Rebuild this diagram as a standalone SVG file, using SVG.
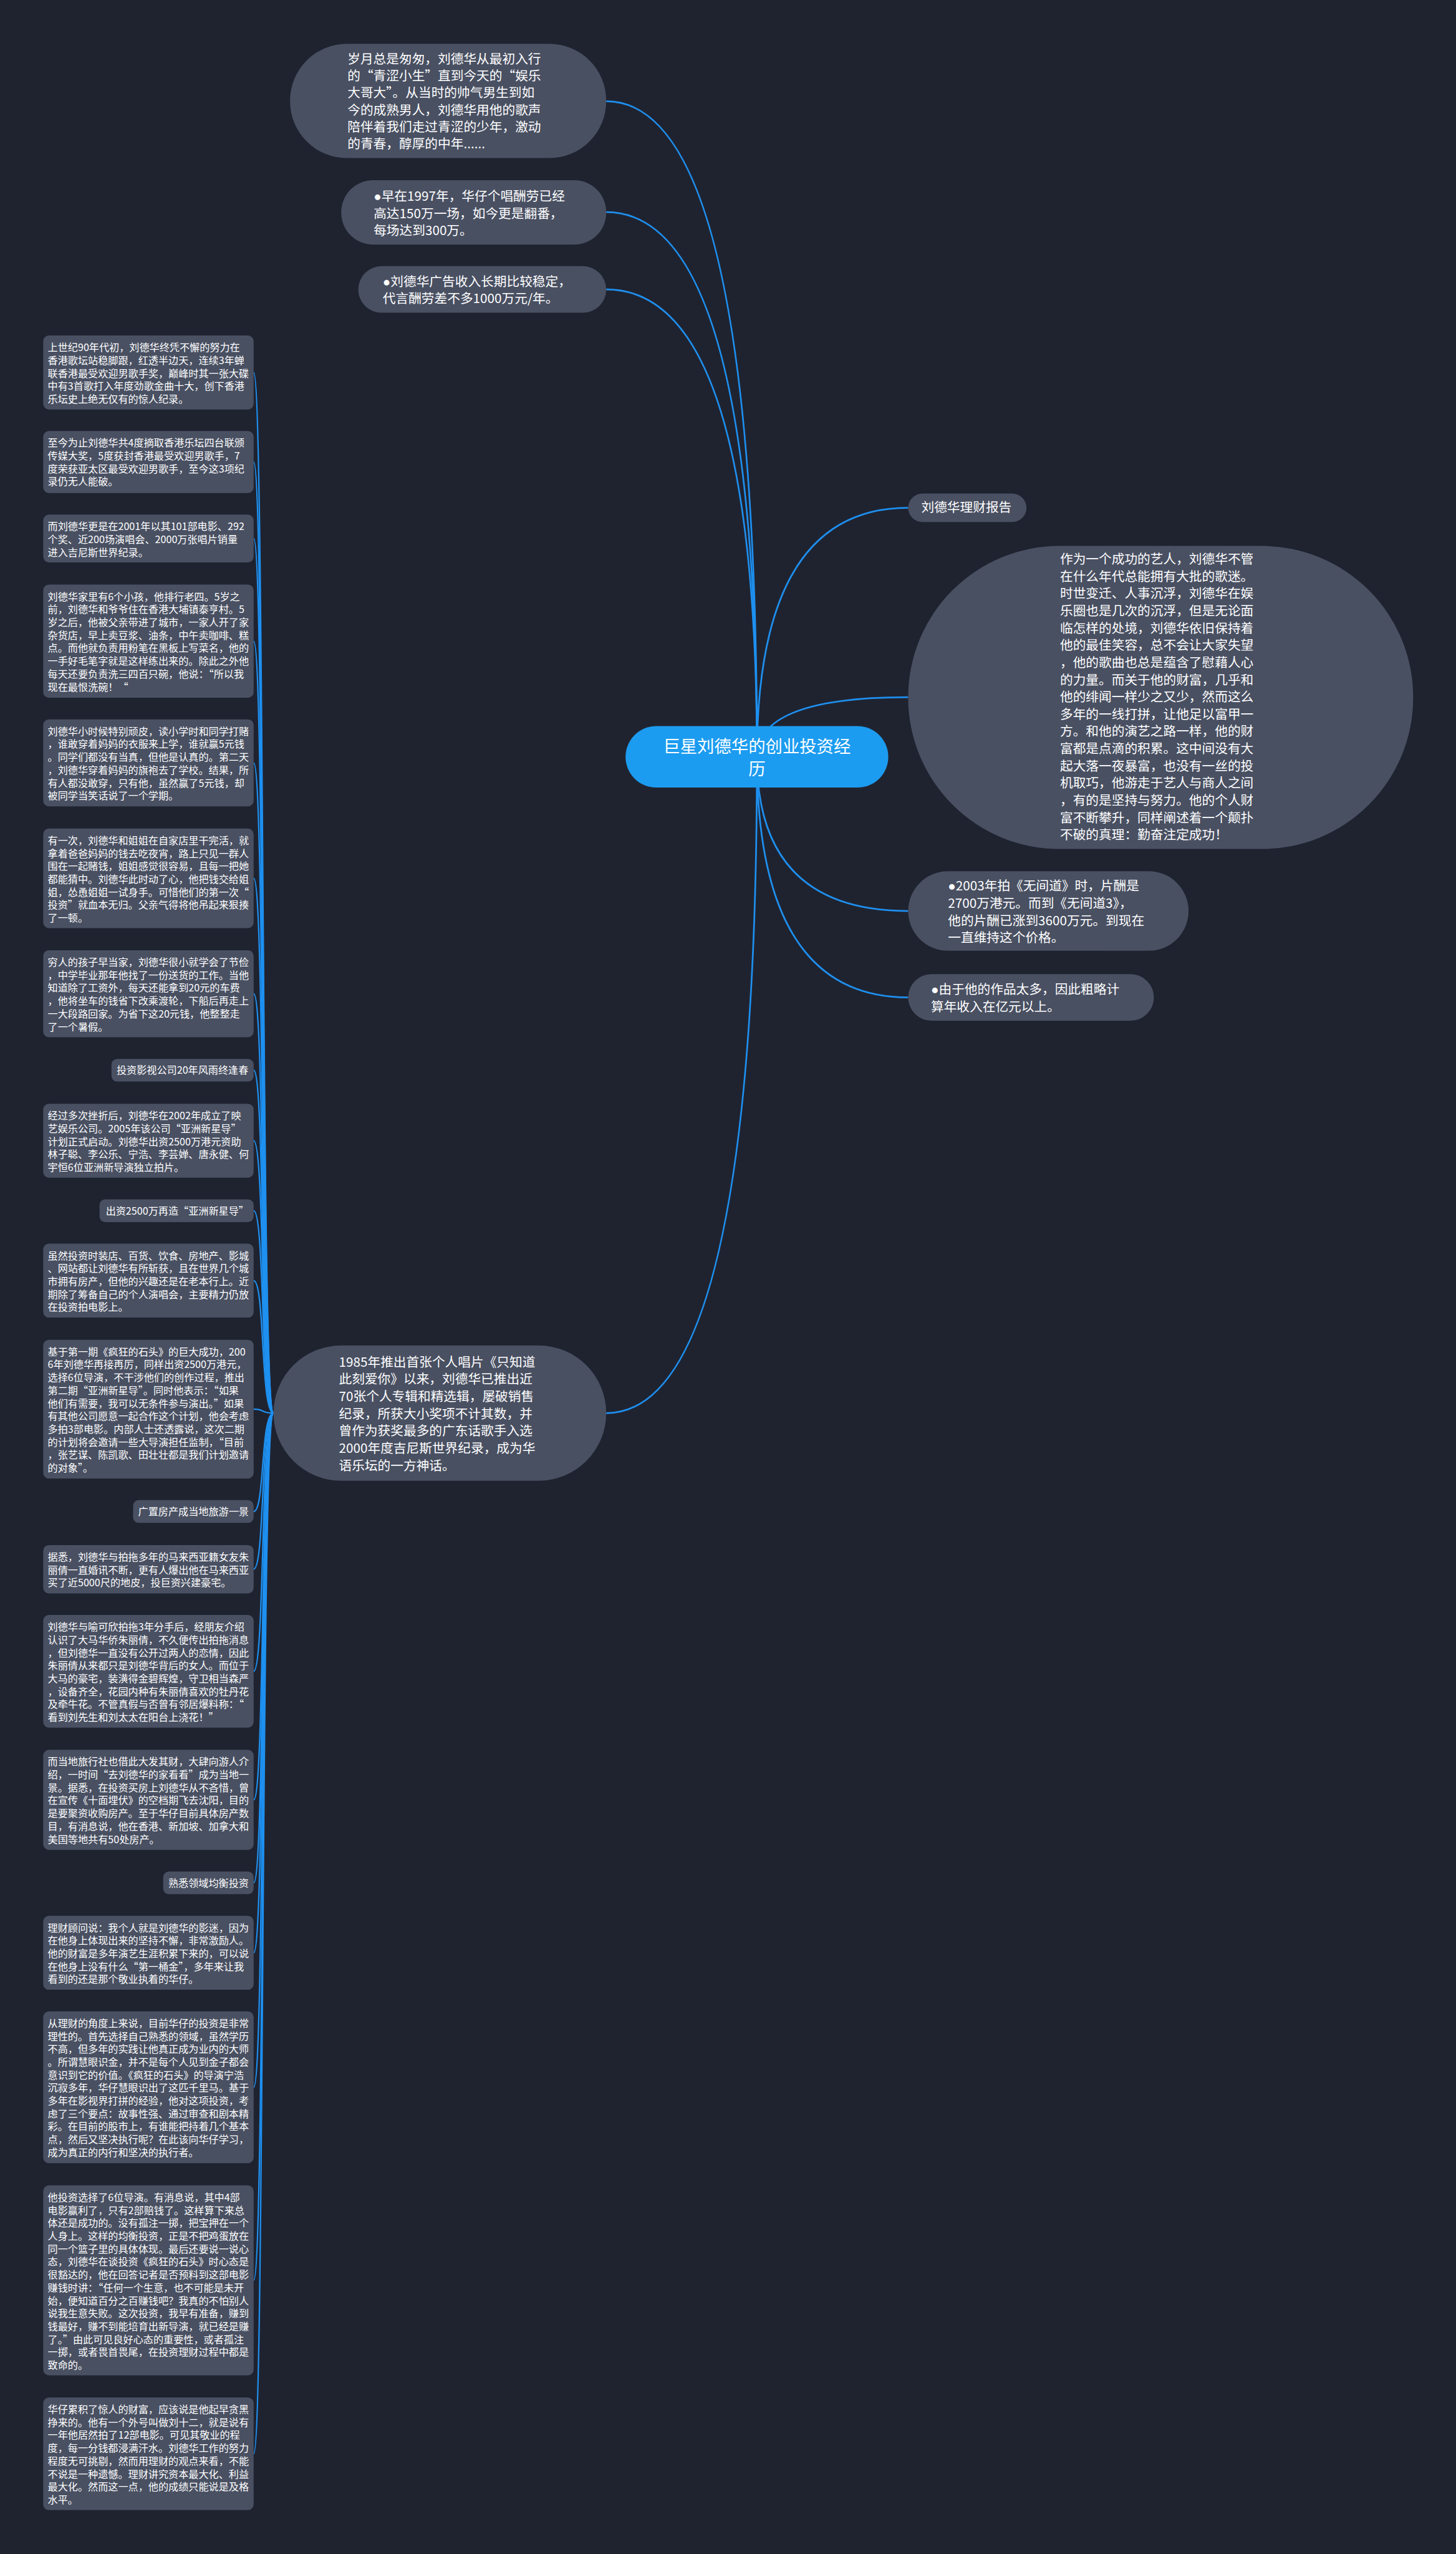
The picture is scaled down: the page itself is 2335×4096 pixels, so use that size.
<svg xmlns="http://www.w3.org/2000/svg" width="2335" height="4096" viewBox="0 0 2335 4096">
<style>
.n{fill:#495062}
.t{fill:#ffffff;font-family:"Noto Sans CJK SC","Noto Sans",sans-serif}
.s{font-size:17.7px}
.b{font-size:22.7px}
.dot{font-family:"Liberation Sans","DejaVu Sans",sans-serif}
.c1{fill:none;stroke:#1e90f0;stroke-width:3}
.c2{fill:none;stroke:#1e90f0;stroke-width:2.5}
</style>
<rect x="0" y="0" width="2335" height="4096" fill="#1f2330"/>
<g transform="scale(0.912)">
<g id="connectors">
<path class="c1" d="M1331 1331 Q1331 178 1066 178"/>
<path class="c1" d="M1331 1331 Q1331 373 1066 373"/>
<path class="c1" d="M1331 1331 Q1331 509 1066 509"/>
<path class="c1" d="M1331 1331 Q1331 893 1597 893"/>
<path class="c1" d="M1331 1331 Q1331 1226 1597 1226"/>
<path class="c1" d="M1331 1331 Q1331 1602 1597 1602"/>
<path class="c1" d="M1331 1331 Q1331 1754 1597 1754"/>
<path class="c1" d="M1331 1331 Q1331 2485 1066 2485"/>
<path class="c2" d="M446 655 C466 655 458 2485 481 2485"/>
<path class="c2" d="M446 812.5 C466 812.5 458 2485 481 2485"/>
<path class="c2" d="M446 947 C466 947 458 2485 481 2485"/>
<path class="c2" d="M446 1127.5 C466 1127.5 458 2485 481 2485"/>
<path class="c2" d="M446 1341.5 C466 1341.5 458 2485 481 2485"/>
<path class="c2" d="M446 1544.5 C466 1544.5 458 2485 481 2485"/>
<path class="c2" d="M446 1747.5 C466 1747.5 458 2485 481 2485"/>
<path class="c2" d="M446 1882 C466 1882 458 2485 481 2485"/>
<path class="c2" d="M446 2006 C466 2006 458 2485 481 2485"/>
<path class="c2" d="M446 2129 C466 2129 458 2485 481 2485"/>
<path class="c2" d="M446 2252 C466 2252 458 2485 481 2485"/>
<path class="c2" d="M446 2478 C466 2478 458 2485 481 2485"/>
<path class="c2" d="M446 2658 C466 2658 458 2485 481 2485"/>
<path class="c2" d="M446 2759.5 C466 2759.5 458 2485 481 2485"/>
<path class="c2" d="M446 2939 C466 2939 458 2485 481 2485"/>
<path class="c2" d="M446 3165 C466 3165 458 2485 481 2485"/>
<path class="c2" d="M446 3311 C466 3311 458 2485 481 2485"/>
<path class="c2" d="M446 3434 C466 3434 458 2485 481 2485"/>
<path class="c2" d="M446 3670.5 C466 3670.5 458 2485 481 2485"/>
<path class="c2" d="M446 4010 C466 4010 458 2485 481 2485"/>
<path class="c2" d="M446 4315 C466 4315 458 2485 481 2485"/>
</g>

<g id="center">
<rect x="1100" y="1277" width="462" height="108" rx="54" fill="#1c9cf0"/>
<text class="t" font-size="30" text-anchor="middle"><tspan x="1331" y="1323">巨星刘德华的创业投资经</tspan><tspan x="1331" y="1363">历</tspan></text>
</g>

<g id="top1">
<rect class="n" x="510" y="77" width="556" height="201" rx="100"/>
<text class="t b" x="611" y="111.3"><tspan x="611" dy="0">岁月总是匆匆，刘德华从最初入行</tspan><tspan x="611" dy="30">的“青涩小生”直到今天的“娱乐</tspan><tspan x="611" dy="30">大哥大”。从当时的帅气男生到如</tspan><tspan x="611" dy="30">今的成熟男人，刘德华用他的歌声</tspan><tspan x="611" dy="30">陪伴着我们走过青涩的少年，激动</tspan><tspan x="611" dy="30">的青春，醇厚的中年......</tspan></text>
</g>
<g id="top2">
<rect class="n" x="600" y="317" width="466" height="113" rx="56"/>
<text class="t b" x="657" y="353.3"><tspan x="657" dy="0"><tspan class="dot">●</tspan>早在1997年，华仔个唱酬劳已经</tspan><tspan x="657" dy="30">高达150万一场，如今更是翻番，</tspan><tspan x="657" dy="30">每场达到300万。</tspan></text>
</g>
<g id="top3">
<rect class="n" x="630" y="468" width="436" height="82" rx="41"/>
<text class="t b" x="673" y="503.3"><tspan x="673" dy="0"><tspan class="dot">●</tspan>刘德华广告收入长期比较稳定，</tspan><tspan x="673" dy="30">代言酬劳差不多1000万元/年。</tspan></text>
</g>

<g id="report">
<rect class="n" x="1597" y="868" width="208" height="50" rx="25"/>
<text class="t b" x="1620" y="900.3">刘德华理财报告</text>
</g>
<g id="summary">
<rect class="n" x="1597" y="960" width="888" height="533" rx="266"/>
<text class="t b" x="1864" y="991.3"><tspan x="1864" dy="0">作为一个成功的艺人，刘德华不管</tspan><tspan x="1864" dy="30.3">在什么年代总能拥有大批的歌迷。</tspan><tspan x="1864" dy="30.3">时世变迁、人事沉浮，刘德华在娱</tspan><tspan x="1864" dy="30.3">乐圈也是几次的沉浮，但是无论面</tspan><tspan x="1864" dy="30.3">临怎样的处境，刘德华依旧保持着</tspan><tspan x="1864" dy="30.3">他的最佳笑容，总不会让大家失望</tspan><tspan x="1864" dy="30.3">，他的歌曲也总是蕴含了慰藉人心</tspan><tspan x="1864" dy="30.3">的力量。而关于他的财富，几乎和</tspan><tspan x="1864" dy="30.3">他的绯闻一样少之又少，然而这么</tspan><tspan x="1864" dy="30.3">多年的一线打拼，让他足以富甲一</tspan><tspan x="1864" dy="30.3">方。和他的演艺之路一样，他的财</tspan><tspan x="1864" dy="30.3">富都是点滴的积累。这中间没有大</tspan><tspan x="1864" dy="30.3">起大落一夜暴富，也没有一丝的投</tspan><tspan x="1864" dy="30.3">机取巧，他游走于艺人与商人之间</tspan><tspan x="1864" dy="30.3">，有的是坚持与努力。他的个人财</tspan><tspan x="1864" dy="30.3">富不断攀升，同样阐述着一个颠扑</tspan><tspan x="1864" dy="30.3">不破的真理：勤奋注定成功！</tspan></text>
</g>
<g id="pay2003">
<rect class="n" x="1597" y="1532" width="493" height="140" rx="70"/>
<text class="t b" x="1667" y="1566.3"><tspan x="1667" dy="0"><tspan class="dot">●</tspan>2003年拍《无间道》时，片酬是</tspan><tspan x="1667" dy="30.3">2700万港元。而到《无间道3》，</tspan><tspan x="1667" dy="30.3">他的片酬已涨到3600万元。到现在</tspan><tspan x="1667" dy="30.3">一直维持这个价格。</tspan></text>
</g>
<g id="income">
<rect class="n" x="1597" y="1713" width="432" height="82" rx="41"/>
<text class="t b" x="1637" y="1748.3"><tspan x="1637" dy="0"><tspan class="dot">●</tspan>由于他的作品太多，因此粗略计</tspan><tspan x="1637" dy="30">算年收入在亿元以上。</tspan></text>
</g>

<g id="album1985">
<rect class="n" x="481" y="2366" width="585" height="238" rx="119"/>
<text class="t b" x="596" y="2403.3"><tspan x="596" dy="0">1985年推出首张个人唱片《只知道</tspan><tspan x="596" dy="30.3">此刻爱你》以来，刘德华已推出近</tspan><tspan x="596" dy="30.3">70张个人专辑和精选辑，屡破销售</tspan><tspan x="596" dy="30.3">纪录，所获大小奖项不计其数，并</tspan><tspan x="596" dy="30.3">曾作为获奖最多的广东话歌手入选</tspan><tspan x="596" dy="30.3">2000年度吉尼斯世界纪录，成为华</tspan><tspan x="596" dy="30.3">语乐坛的一方神话。</tspan></text>
</g>

<g id="nA">
<rect class="n" x="76" y="590" width="370" height="130" rx="10"/>
<text class="t s" x="84" y="617.5"><tspan x="84" dy="0">上世纪90年代初，刘德华终凭不懈的努力在</tspan><tspan x="84" dy="22.7">香港歌坛站稳脚跟，红透半边天，连续3年蝉</tspan><tspan x="84" dy="22.7">联香港最受欢迎男歌手奖，巅峰时其一张大碟</tspan><tspan x="84" dy="22.7">中有3首歌打入年度劲歌金曲十大，创下香港</tspan><tspan x="84" dy="22.7">乐坛史上绝无仅有的惊人纪录。</tspan></text>
</g>
<g id="nB">
<rect class="n" x="76" y="758" width="370" height="109" rx="10"/>
<text class="t s" x="84" y="785.5"><tspan x="84" dy="0">至今为止刘德华共4度摘取香港乐坛四台联颁</tspan><tspan x="84" dy="22.7">传媒大奖，5度获封香港最受欢迎男歌手，7</tspan><tspan x="84" dy="22.7">度荣获亚太区最受欢迎男歌手，至今这3项纪</tspan><tspan x="84" dy="22.7">录仍无人能破。</tspan></text>
</g>
<g id="nC">
<rect class="n" x="76" y="905" width="370" height="84" rx="10"/>
<text class="t s" x="84" y="932.5"><tspan x="84" dy="0">而刘德华更是在2001年以其101部电影、292</tspan><tspan x="84" dy="22.7">个奖、近200场演唱会、2000万张唱片销量</tspan><tspan x="84" dy="22.7">进入吉尼斯世界纪录。</tspan></text>
</g>
<g id="nD">
<rect class="n" x="76" y="1028" width="370" height="199" rx="10"/>
<text class="t s" x="84" y="1055.5"><tspan x="84" dy="0">刘德华家里有6个小孩，他排行老四。5岁之</tspan><tspan x="84" dy="22.7">前，刘德华和爷爷住在香港大埔镇泰亨村。5</tspan><tspan x="84" dy="22.7">岁之后，他被父亲带进了城市，一家人开了家</tspan><tspan x="84" dy="22.7">杂货店，早上卖豆浆、油条，中午卖咖啡、糕</tspan><tspan x="84" dy="22.7">点。而他就负责用粉笔在黑板上写菜名，他的</tspan><tspan x="84" dy="22.7">一手好毛笔字就是这样练出来的。除此之外他</tspan><tspan x="84" dy="22.7">每天还要负责洗三四百只碗，他说：“所以我</tspan><tspan x="84" dy="22.7">现在最恨洗碗！“</tspan></text>
</g>
<g id="nE">
<rect class="n" x="76" y="1265" width="370" height="153" rx="10"/>
<text class="t s" x="84" y="1292.5"><tspan x="84" dy="0">刘德华小时候特别顽皮，读小学时和同学打赌</tspan><tspan x="84" dy="22.7">，谁敢穿着妈妈的衣服来上学，谁就赢5元钱</tspan><tspan x="84" dy="22.7">。同学们都没有当真，但他是认真的。第二天</tspan><tspan x="84" dy="22.7">，刘德华穿着妈妈的旗袍去了学校。结果，所</tspan><tspan x="84" dy="22.7">有人都没敢穿，只有他，虽然赢了5元钱，却</tspan><tspan x="84" dy="22.7">被同学当笑话说了一个学期。</tspan></text>
</g>
<g id="nF">
<rect class="n" x="76" y="1457" width="370" height="175" rx="10"/>
<text class="t s" x="84" y="1484.5"><tspan x="84" dy="0">有一次，刘德华和姐姐在自家店里干完活，就</tspan><tspan x="84" dy="22.7">拿着爸爸妈妈的钱去吃夜宵，路上只见一群人</tspan><tspan x="84" dy="22.7">围在一起赌钱，姐姐感觉很容易，且每一把她</tspan><tspan x="84" dy="22.7">都能猜中。刘德华此时动了心，他把钱交给姐</tspan><tspan x="84" dy="22.7">姐，怂恿姐姐一试身手。可惜他们的第一次“</tspan><tspan x="84" dy="22.7">投资”就血本无归。父亲气得将他吊起来狠揍</tspan><tspan x="84" dy="22.7">了一顿。</tspan></text>
</g>
<g id="nG">
<rect class="n" x="76" y="1671" width="370" height="153" rx="10"/>
<text class="t s" x="84" y="1698.5"><tspan x="84" dy="0">穷人的孩子早当家，刘德华很小就学会了节俭</tspan><tspan x="84" dy="22.7">，中学毕业那年他找了一份送货的工作。当他</tspan><tspan x="84" dy="22.7">知道除了工资外，每天还能拿到20元的车费</tspan><tspan x="84" dy="22.7">，他将坐车的钱省下改乘渡轮，下船后再走上</tspan><tspan x="84" dy="22.7">一大段路回家。为省下这20元钱，他整整走</tspan><tspan x="84" dy="22.7">了一个暑假。</tspan></text>
</g>
<g id="nH">
<rect class="n" x="196" y="1862" width="250" height="40" rx="10"/>
<text class="t s" x="205" y="1888.5">投资影视公司20年风雨终逢春</text>
</g>
<g id="nI">
<rect class="n" x="76" y="1941" width="370" height="130" rx="10"/>
<text class="t s" x="84" y="1968.5"><tspan x="84" dy="0">经过多次挫折后，刘德华在2002年成立了映</tspan><tspan x="84" dy="22.7">艺娱乐公司。2005年该公司“亚洲新星导”</tspan><tspan x="84" dy="22.7">计划正式启动。刘德华出资2500万港元资助</tspan><tspan x="84" dy="22.7">林子聪、李公乐、宁浩、李芸婵、唐永健、何</tspan><tspan x="84" dy="22.7">宇恒6位亚洲新导演独立拍片。</tspan></text>
</g>
<g id="nJ">
<rect class="n" x="175" y="2109" width="271" height="40" rx="10"/>
<text class="t s" x="186" y="2135.5">出资2500万再造“亚洲新星导”</text>
</g>
<g id="nK">
<rect class="n" x="76" y="2187" width="370" height="130" rx="10"/>
<text class="t s" x="84" y="2214.5"><tspan x="84" dy="0">虽然投资时装店、百货、饮食、房地产、影城</tspan><tspan x="84" dy="22.7">、网站都让刘德华有所斩获，且在世界几个城</tspan><tspan x="84" dy="22.7">市拥有房产，但他的兴趣还是在老本行上。近</tspan><tspan x="84" dy="22.7">期除了筹备自己的个人演唱会，主要精力仍放</tspan><tspan x="84" dy="22.7">在投资拍电影上。</tspan></text>
</g>
<g id="nL">
<rect class="n" x="76" y="2356" width="370" height="244" rx="10"/>
<text class="t s" x="84" y="2383.5"><tspan x="84" dy="0">基于第一期《疯狂的石头》的巨大成功，200</tspan><tspan x="84" dy="22.7">6年刘德华再接再厉，同样出资2500万港元，</tspan><tspan x="84" dy="22.7">选择6位导演，不干涉他们的创作过程，推出</tspan><tspan x="84" dy="22.7">第二期“亚洲新星导”。同时他表示：“如果</tspan><tspan x="84" dy="22.7">他们有需要，我可以无条件参与演出。”如果</tspan><tspan x="84" dy="22.7">有其他公司愿意一起合作这个计划，他会考虑</tspan><tspan x="84" dy="22.7">多拍3部电影。内部人士还透露说，这次二期</tspan><tspan x="84" dy="22.7">的计划将会邀请一些大导演担任监制，“目前</tspan><tspan x="84" dy="22.7">，张艺谋、陈凯歌、田壮壮都是我们计划邀请</tspan><tspan x="84" dy="22.7">的对象”。</tspan></text>
</g>
<g id="nM">
<rect class="n" x="234" y="2638" width="212" height="40" rx="10"/>
<text class="t s" x="243" y="2664.5">广置房产成当地旅游一景</text>
</g>
<g id="nN">
<rect class="n" x="76" y="2717" width="370" height="85" rx="10"/>
<text class="t s" x="84" y="2744.5"><tspan x="84" dy="0">据悉，刘德华与拍拖多年的马来西亚籍女友朱</tspan><tspan x="84" dy="22.7">丽倩一直婚讯不断，更有人爆出他在马来西亚</tspan><tspan x="84" dy="22.7">买了近5000尺的地皮，投巨资兴建豪宅。</tspan></text>
</g>
<g id="nO">
<rect class="n" x="76" y="2840" width="370" height="198" rx="10"/>
<text class="t s" x="84" y="2867.5"><tspan x="84" dy="0">刘德华与喻可欣拍拖3年分手后，经朋友介绍</tspan><tspan x="84" dy="22.7">认识了大马华侨朱丽倩，不久便传出拍拖消息</tspan><tspan x="84" dy="22.7">，但刘德华一直没有公开过两人的恋情，因此</tspan><tspan x="84" dy="22.7">朱丽倩从来都只是刘德华背后的女人。而位于</tspan><tspan x="84" dy="22.7">大马的豪宅，装潢得金碧辉煌，守卫相当森严</tspan><tspan x="84" dy="22.7">，设备齐全，花园内种有朱丽倩喜欢的牡丹花</tspan><tspan x="84" dy="22.7">及牵牛花。不管真假与否曾有邻居爆料称：“</tspan><tspan x="84" dy="22.7">看到刘先生和刘太太在阳台上浇花！”</tspan></text>
</g>
<g id="nP">
<rect class="n" x="76" y="3077" width="370" height="176" rx="10"/>
<text class="t s" x="84" y="3104.5"><tspan x="84" dy="0">而当地旅行社也借此大发其财，大肆向游人介</tspan><tspan x="84" dy="22.7">绍，一时间“去刘德华的家看看”成为当地一</tspan><tspan x="84" dy="22.7">景。据悉，在投资买房上刘德华从不吝惜，曾</tspan><tspan x="84" dy="22.7">在宣传《十面埋伏》的空档期飞去沈阳，目的</tspan><tspan x="84" dy="22.7">是要聚资收购房产。至于华仔目前具体房产数</tspan><tspan x="84" dy="22.7">目，有消息说，他在香港、新加坡、加拿大和</tspan><tspan x="84" dy="22.7">美国等地共有50处房产。</tspan></text>
</g>
<g id="nQ">
<rect class="n" x="287" y="3291" width="159" height="40" rx="10"/>
<text class="t s" x="296" y="3317.5">熟悉领域均衡投资</text>
</g>
<g id="nR">
<rect class="n" x="76" y="3369" width="370" height="130" rx="10"/>
<text class="t s" x="84" y="3396.5"><tspan x="84" dy="0">理财顾问说：我个人就是刘德华的影迷，因为</tspan><tspan x="84" dy="22.7">在他身上体现出来的坚持不懈，非常激励人。</tspan><tspan x="84" dy="22.7">他的财富是多年演艺生涯积累下来的，可以说</tspan><tspan x="84" dy="22.7">在他身上没有什么“第一桶金”，多年来让我</tspan><tspan x="84" dy="22.7">看到的还是那个敬业执着的华仔。</tspan></text>
</g>
<g id="nS">
<rect class="n" x="76" y="3537" width="370" height="267" rx="10"/>
<text class="t s" x="84" y="3564.5"><tspan x="84" dy="0">从理财的角度上来说，目前华仔的投资是非常</tspan><tspan x="84" dy="22.7">理性的。首先选择自己熟悉的领域，虽然学历</tspan><tspan x="84" dy="22.7">不高，但多年的实践让他真正成为业内的大师</tspan><tspan x="84" dy="22.7">。所谓慧眼识金，并不是每个人见到金子都会</tspan><tspan x="84" dy="22.7">意识到它的价值。《疯狂的石头》的导演宁浩</tspan><tspan x="84" dy="22.7">沉寂多年，华仔慧眼识出了这匹千里马。基于</tspan><tspan x="84" dy="22.7">多年在影视界打拼的经验，他对这项投资，考</tspan><tspan x="84" dy="22.7">虑了三个要点：故事性强、通过审查和剧本精</tspan><tspan x="84" dy="22.7">彩。在目前的股市上，有谁能把持着几个基本</tspan><tspan x="84" dy="22.7">点，然后又坚决执行呢？在此该向华仔学习，</tspan><tspan x="84" dy="22.7">成为真正的内行和坚决的执行者。</tspan></text>
</g>
<g id="nT">
<rect class="n" x="76" y="3843" width="370" height="334" rx="10"/>
<text class="t s" x="84" y="3870.5"><tspan x="84" dy="0">他投资选择了6位导演。有消息说，其中4部</tspan><tspan x="84" dy="22.7">电影赢利了，只有2部赔钱了。这样算下来总</tspan><tspan x="84" dy="22.7">体还是成功的。没有孤注一掷，把宝押在一个</tspan><tspan x="84" dy="22.7">人身上。这样的均衡投资，正是不把鸡蛋放在</tspan><tspan x="84" dy="22.7">同一个篮子里的具体体现。最后还要说一说心</tspan><tspan x="84" dy="22.7">态，刘德华在谈投资《疯狂的石头》时心态是</tspan><tspan x="84" dy="22.7">很豁达的，他在回答记者是否预料到这部电影</tspan><tspan x="84" dy="22.7">赚钱时讲：“任何一个生意，也不可能是未开</tspan><tspan x="84" dy="22.7">始，便知道百分之百赚钱吧？我真的不怕别人</tspan><tspan x="84" dy="22.7">说我生意失败。这次投资，我早有准备，赚到</tspan><tspan x="84" dy="22.7">钱最好，赚不到能培育出新导演，就已经是赚</tspan><tspan x="84" dy="22.7">了。”由此可见良好心态的重要性，或者孤注</tspan><tspan x="84" dy="22.7">一掷，或者畏首畏尾，在投资理财过程中都是</tspan><tspan x="84" dy="22.7">致命的。</tspan></text>
</g>
<g id="nU">
<rect class="n" x="76" y="4216" width="370" height="198" rx="10"/>
<text class="t s" x="84" y="4243.5"><tspan x="84" dy="0">华仔累积了惊人的财富，应该说是他起早贪黑</tspan><tspan x="84" dy="22.7">挣来的。他有一个外号叫做刘十二，就是说有</tspan><tspan x="84" dy="22.7">一年他居然拍了12部电影。可见其敬业的程</tspan><tspan x="84" dy="22.7">度，每一分钱都浸满汗水。刘德华工作的努力</tspan><tspan x="84" dy="22.7">程度无可挑剔，然而用理财的观点来看，不能</tspan><tspan x="84" dy="22.7">不说是一种遗憾。理财讲究资本最大化、利益</tspan><tspan x="84" dy="22.7">最大化。然而这一点，他的成绩只能说是及格</tspan><tspan x="84" dy="22.7">水平。</tspan></text>
</g>
</g>
</svg>
